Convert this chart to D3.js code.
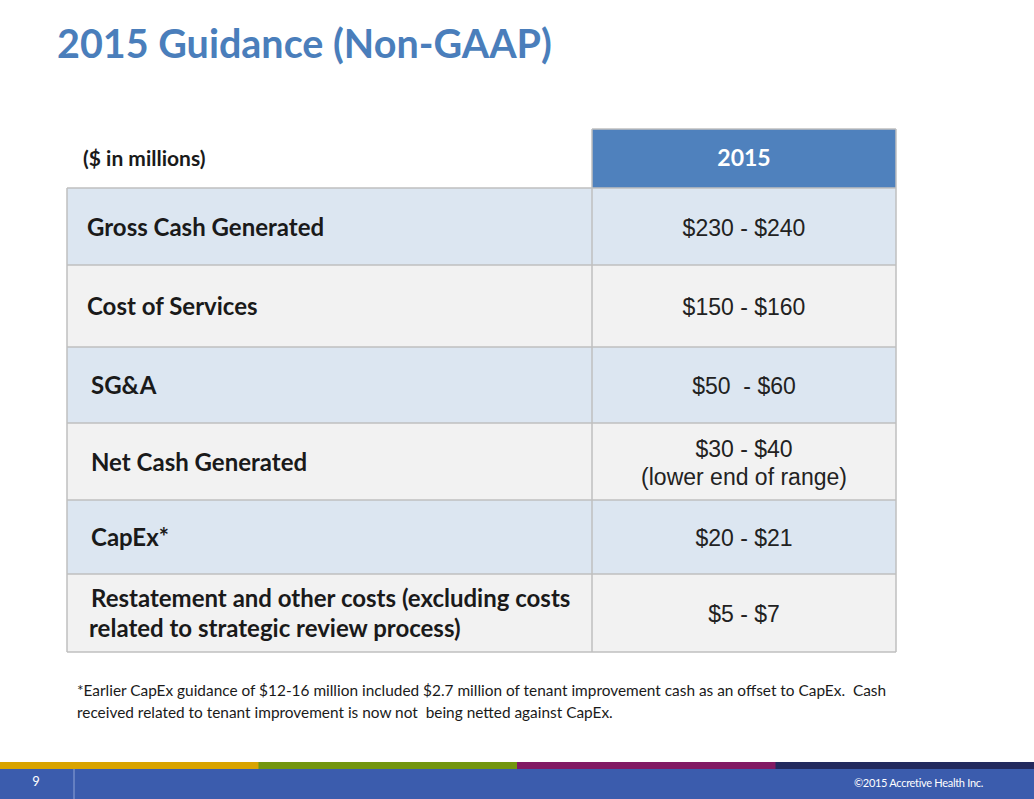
<!DOCTYPE html>
<html>
<head>
<meta charset="utf-8">
<script src="https://cdn.jsdelivr.net/npm/d3@7"></script>
<style>
  html, body { margin: 0; padding: 0; background: #fff; }
  svg { display: block; }
  text { white-space: pre; }
</style>
</head>
<body>
<svg id="chart"></svg>
<script>
const width = 1034;
const height = 799;

// table content
const title = "2015 Guidance (Non-GAAP)";
const unitLabel = "($ in millions)";
const columnHeader = "2015";
const rowLabels = [
  ["Gross Cash Generated"],
  ["Cost of Services"],
  ["SG&A"],
  ["Net Cash Generated"],
  ["CapEx*"],
  ["Restatement and other costs (excluding costs", "related to strategic review process)"]
];
const rowValues = [
  ["$230 - $240"],
  ["$150 - $160"],
  ["$50  - $60"],
  ["$30 - $40", "(lower end of range)"],
  ["$20 - $21"],
  ["$5 - $7"]
];
const footnote = [
  "*Earlier CapEx guidance of $12-16 million included $2.7 million of tenant improvement cash as an offset to CapEx.  Cash",
  "received related to tenant improvement is now not  being netted against CapEx."
];
const pageNumber = "9";
const copyright = "\u00a92015 Accretive Health Inc.";
const stripeColors = ["#d9a400", "#73960f", "#821a63", "#232a5e"];

// layout
const tableLeft = 67, colSplit = 592, tableRight = 896;
const headerTop = 129, headerBottom = 188;
const rowEdges = [188, 265, 347, 423, 500, 574, 652];
const labelIndent = [20, 20, 24, 24, 24, 24];
const rowFill = ["#dce6f1", "#f2f2f2"];
const borderColor = "#bfbfbf";
const lato = "Lato, 'Noto Sans', sans-serif";
const arial = "'Liberation Sans', Arial, sans-serif";

const svg = d3.select("#chart")
  .attr("width", width)
  .attr("height", height);

svg.append("text")
  .attr("x", 57)
  .attr("y", 58)
  .attr("font-family", lato)
  .attr("font-weight", 700)
  .attr("font-size", 39.5)
  .attr("fill", "#4a7ebb")
  .text(title);

// header
svg.append("rect")
  .attr("x", colSplit)
  .attr("y", headerTop)
  .attr("width", tableRight - colSplit)
  .attr("height", headerBottom - headerTop)
  .attr("fill", "#4f81bd");

svg.append("text")
  .attr("x", 83)
  .attr("y", 166)
  .attr("font-family", lato)
  .attr("font-weight", 700)
  .attr("font-size", 21)
  .attr("fill", "#1a1a1a")
  .text(unitLabel);

svg.append("text")
  .attr("x", (colSplit + tableRight) / 2)
  .attr("y", 166)
  .attr("text-anchor", "middle")
  .attr("font-family", lato)
  .attr("font-weight", 700)
  .attr("font-size", 23)
  .attr("fill", "#fff")
  .text(columnHeader);

// rows
const rows = svg.append("g")
  .selectAll("g")
  .data(rowLabels.map((label, i) => ({ label, value: rowValues[i], i })))
  .join("g");

rows.append("rect")
  .attr("x", tableLeft)
  .attr("y", d => rowEdges[d.i])
  .attr("width", tableRight - tableLeft)
  .attr("height", d => rowEdges[d.i + 1] - rowEdges[d.i])
  .attr("fill", d => rowFill[d.i % 2]);

const lineGap = 30;

rows.append("text")
  .attr("font-family", lato)
  .attr("font-weight", 700)
  .attr("font-size", 24)
  .attr("fill", "#1a1a1a")
  .selectAll("tspan")
  .data(d => d.label.map((t, k) => ({ t, k, d })))
  .join("tspan")
  .attr("x", e => tableLeft + labelIndent[e.d.i] - (e.k > 0 ? 2 : 0))
  .attr("y", e => {
    const c = (rowEdges[e.d.i] + rowEdges[e.d.i + 1]) / 2;
    return c + 9 + (e.k - (e.d.label.length - 1) / 2) * lineGap;
  })
  .text(e => e.t);

rows.append("text")
  .attr("text-anchor", "middle")
  .attr("font-family", arial)
  .attr("font-size", 23)
  .attr("fill", "#222")
  .selectAll("tspan")
  .data(d => d.value.map((t, k) => ({ t, k, d })))
  .join("tspan")
  .attr("x", (colSplit + tableRight) / 2)
  .attr("y", e => {
    const c = (rowEdges[e.d.i] + rowEdges[e.d.i + 1]) / 2;
    return c + 9 + (e.k - (e.d.value.length - 1) / 2) * 28;
  })
  .text(e => e.t);

// grid lines
const grid = svg.append("g")
  .attr("stroke", borderColor)
  .attr("stroke-width", 1.5);

grid.selectAll("line.h")
  .data(rowEdges)
  .join("line")
  .attr("class", "h")
  .attr("x1", tableLeft)
  .attr("x2", tableRight)
  .attr("y1", d => d)
  .attr("y2", d => d);

grid.append("line")
  .attr("x1", tableLeft).attr("x2", tableLeft)
  .attr("y1", rowEdges[0]).attr("y2", rowEdges[rowEdges.length - 1]);
grid.append("line")
  .attr("x1", colSplit).attr("x2", colSplit)
  .attr("y1", headerTop).attr("y2", rowEdges[rowEdges.length - 1]);
grid.append("line")
  .attr("x1", tableRight).attr("x2", tableRight)
  .attr("y1", headerTop).attr("y2", rowEdges[rowEdges.length - 1]);
grid.append("line")
  .attr("x1", colSplit).attr("x2", tableRight)
  .attr("y1", headerTop).attr("y2", headerTop);

// footnote
svg.append("text")
  .attr("font-family", lato)
  .attr("font-size", 15.4)
  .attr("fill", "#1a1a1a")
  .selectAll("tspan")
  .data(footnote)
  .join("tspan")
  .attr("x", 77)
  .attr("y", (d, i) => 696 + i * 22)
  .text(d => d);

// footer
const stripe = d3.scaleBand()
  .domain(d3.range(stripeColors.length))
  .range([0, width]);

svg.append("g")
  .selectAll("rect")
  .data(stripeColors)
  .join("rect")
  .attr("x", (d, i) => stripe(i))
  .attr("y", 762)
  .attr("width", stripe.bandwidth() + 0.5)
  .attr("height", 7)
  .attr("fill", d => d);

svg.append("rect")
  .attr("x", 0)
  .attr("y", 769)
  .attr("width", width)
  .attr("height", height - 769)
  .attr("fill", "#3b5cad");

svg.append("line")
  .attr("x1", 74).attr("x2", 74)
  .attr("y1", 769).attr("y2", height)
  .attr("stroke", "#8fa3d6")
  .attr("stroke-width", 1);

svg.append("text")
  .attr("x", 36)
  .attr("y", 786)
  .attr("text-anchor", "middle")
  .attr("font-family", lato)
  .attr("font-size", 13)
  .attr("fill", "#fff")
  .text(pageNumber);

svg.append("text")
  .attr("x", 983)
  .attr("y", 787)
  .attr("text-anchor", "end")
  .attr("font-family", lato)
  .attr("font-size", 11)
  .attr("letter-spacing", -0.3)
  .attr("fill", "#fff")
  .text(copyright);
</script>
</body>
</html>
